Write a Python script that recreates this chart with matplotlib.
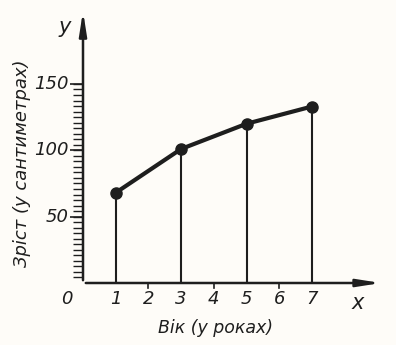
import numpy as np
import matplotlib
matplotlib.use("Agg")
import matplotlib.pyplot as plt

ages = [1, 3, 5, 7]
heights = [68, 101, 120, 133]
x_ticks = [1, 2, 3, 4, 5, 6, 7]
y_ticks = [50, 100, 150]
x_label = "Вік (у роках)"
y_label = "Зріст (у сантиметрах)"

W, H = 396, 345
fig = plt.figure(figsize=(W / 100, H / 100), dpi=100)
fig.patch.set_facecolor("#fefcf8")

ox, oy = 83, 283          # origin in pixels (from top-left)
px_x, px_y = 32.7, 1.327  # pixels per unit
xmax, ymax = 9.2, 207
ax = fig.add_axes([ox / W, (H - oy) / H, xmax * px_x / W, ymax * px_y / H])
ax.set_xlim(0, xmax)
ax.set_ylim(0, ymax)
ax.set_facecolor("none")
for s in ax.spines.values():
    s.set_visible(False)
ax.set_xticks([])
ax.set_yticks([])

ink = "#1e1e1e"
fam = ["Liberation Sans Narrow", "DejaVu Sans"]

# axes arrows
ax.annotate("", xy=(xmax, 0), xytext=(0, 0), xycoords="data", annotation_clip=False,
            arrowprops=dict(arrowstyle="-|>,head_length=1.4,head_width=0.22", color=ink, lw=1.8))
ax.annotate("", xy=(0, ymax), xytext=(0, 0), xycoords="data", annotation_clip=False,
            arrowprops=dict(arrowstyle="-|>,head_length=1.4,head_width=0.22", color=ink, lw=1.8))

# y minor ticks
for v in np.arange(50 / 12, 150 + 0.01, 50 / 12):
    ax.plot([-10 / px_x, 0], [v, v], color=ink, lw=1.0, clip_on=False, solid_capstyle="butt")
for v in y_ticks:
    ax.plot([-13 / px_x, 0], [v, v], color=ink, lw=1.2, clip_on=False, solid_capstyle="butt")
    ax.text(-14 / px_x, v, str(v), ha="right", va="center", fontsize=13,
            style="italic", color=ink, family=fam)

# x ticks
for v in x_ticks:
    if v not in ages:
        ax.plot([v, v], [0, -5 / px_y], color=ink, lw=1.2, clip_on=False)
    ax.text(v, -16 / px_y, str(v), ha="center", va="center", fontsize=13,
            style="italic", color=ink, family=fam)
ax.text(-16 / px_x, -16 / px_y, "0", ha="center", va="center", fontsize=13,
        style="italic", color=ink, family=fam)
ax.text(8.4, -20 / px_y, "x", ha="center", va="center", fontsize=15,
        style="italic", color=ink, family=fam)
ax.text(-18 / px_x, 193, "y", ha="center", va="center", fontsize=15,
        style="italic", color=ink, family=fam)

# data
ax.vlines(ages, 0, heights, color=ink, lw=1.5)
ax.plot(ages, heights, color=ink, lw=3, marker="o", markersize=8, clip_on=False)

fig.text(216 / W, 1 - 328 / H, x_label, ha="center", va="center", fontsize=12.5,
         style="italic", color=ink, family=fam)
fig.text(22 / W, 1 - 163 / H, y_label, ha="center", va="center", fontsize=13,
         style="italic", color=ink, family=fam, rotation=90)

fig.savefig("out.png", dpi=100, facecolor=fig.get_facecolor())
